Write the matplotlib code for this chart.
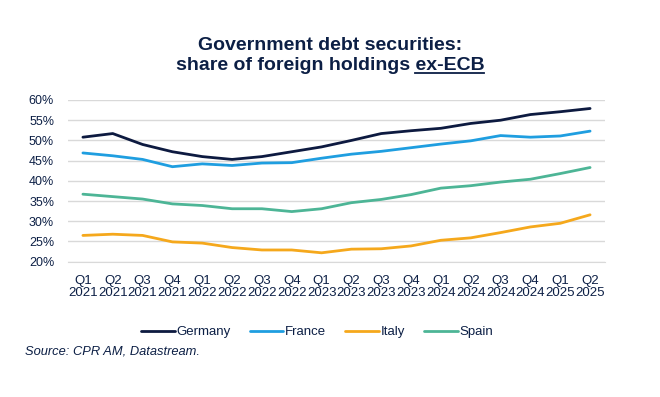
import matplotlib
matplotlib.use("Agg")
import matplotlib.pyplot as plt
from matplotlib.lines import Line2D
from matplotlib.ticker import FuncFormatter

plt.rcParams["font.family"] = ["Liberation Sans", "DejaVu Sans"]

# quarters Q1 2021 .. Q2 2025
quarters = ["Q1", "Q2", "Q3", "Q4"] * 4 + ["Q1", "Q2"]
years = ["2021"] * 4 + ["2022"] * 4 + ["2023"] * 4 + ["2024"] * 4 + ["2025"] * 2
labels = [q + "\n" + y for q, y in zip(quarters, years)]

# share of foreign holdings ex-ECB, %
germany = [50.8, 51.7, 49.0, 47.2, 46.0, 45.3, 46.0, 47.2, 48.4, 50.0,
           51.7, 52.4, 53.0, 54.2, 55.0, 56.4, 57.1, 57.9]
france = [46.9, 46.2, 45.3, 43.5, 44.2, 43.8, 44.4, 44.5, 45.6, 46.6,
          47.3, 48.2, 49.1, 49.9, 51.2, 50.8, 51.1, 52.3]
italy = [26.5, 26.8, 26.5, 24.9, 24.6, 23.5, 22.9, 22.9, 22.2, 23.1,
         23.2, 23.9, 25.3, 25.9, 27.2, 28.6, 29.5, 31.6]
spain = [36.7, 36.1, 35.5, 34.3, 33.9, 33.1, 33.1, 32.4, 33.1, 34.6,
         35.4, 36.6, 38.2, 38.8, 39.7, 40.4, 41.8, 43.3]

series = [("Germany", germany, "#0d1a40"),
          ("France", france, "#1f9ee0"),
          ("Italy", italy, "#f5a81c"),
          ("Spain", spain, "#4db596")]

navy = "#0c1f45"
grid_c = "#d9d9d9"

fig = plt.figure(figsize=(6.6, 3.97), dpi=100)
ax = fig.add_axes([68 / 660, 1 - 261.7 / 397, (605 - 68) / 660, (261.7 - 100) / 397])

x = list(range(len(labels)))
for name, vals, col in series:
    ax.plot(x, vals, color=col, lw=2, label=name, solid_capstyle="round")

ax.set_xlim(-0.5, len(labels) - 0.5)
ax.set_ylim(20, 60)
ax.set_yticks(range(20, 61, 5))
ax.yaxis.set_major_formatter(FuncFormatter(lambda v, p: f"{v:.0f}%"))
ax.set_xticks(x)
ax.set_xticklabels(labels, linespacing=1.0)
ax.grid(axis="y", color=grid_c, lw=1)
ax.set_axisbelow(True)
for s in ["top", "right", "left"]:
    ax.spines[s].set_visible(False)
ax.spines["bottom"].set_color(grid_c)
ax.tick_params(length=0, colors=navy)
ax.tick_params(axis="y", pad=10, labelsize=9)
ax.tick_params(axis="x", pad=9.5, labelsize=9.5)

# title, second line with underlined "ex-ECB"
fig.text(0.5, 1 - 45 / 397, "Government debt securities:", ha="center", va="center",
         fontsize=14, fontweight="bold", color=navy)
t2 = fig.text(0.5, 1 - 66 / 397, "share of foreign holdings ex-ECB", ha="center", va="center",
              fontsize=14, fontweight="bold", color=navy)
r = fig.canvas.get_renderer()
bb = t2.get_window_extent(r)
tmp = fig.text(0, 0, "ex-ECB", fontsize=14, fontweight="bold")
w = tmp.get_window_extent(r).width
tmp.remove()
uy = (bb.y0 + 1.5) / 397
fig.add_artist(Line2D([(bb.x1 - w) / 660, bb.x1 / 660], [uy, uy], color=navy, lw=1.3))

leg = fig.legend(loc="center", bbox_to_anchor=(317 / 660, 1 - 332 / 397), ncol=4,
                 frameon=False, fontsize=9.5, handlelength=2.55, handletextpad=0.12,
                 columnspacing=1.45)
for t in leg.get_texts():
    t.set_color(navy)

fig.text(25 / 660, 1 - 352 / 397, "Source: CPR AM, Datastream.", ha="left", va="center",
         fontsize=9.3, style="italic", color=navy)

fig.savefig("out.png", dpi=100, facecolor="white")
